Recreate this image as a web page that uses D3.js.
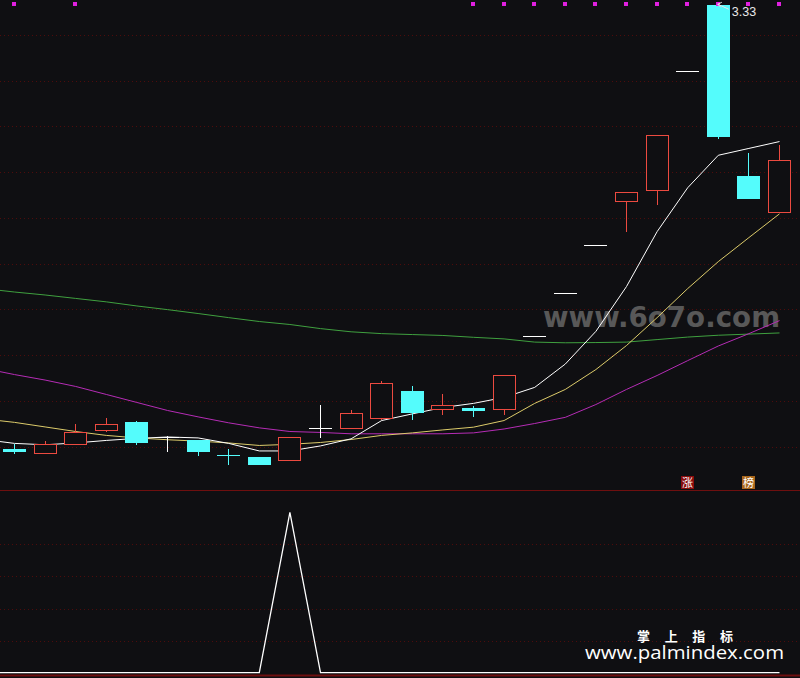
<!DOCTYPE html>
<html><head><meta charset="utf-8">
<script src="https://cdn.jsdelivr.net/npm/d3@7"></script>
<style>html,body{margin:0;padding:0;background:#0f0f12;overflow:hidden}</style>
</head><body><svg id="c" width="800" height="678"></svg>
<script>
// ---- data (26 trading days) ----
const opens  = [1.388,1.372,1.411,1.472,1.506,1.442,1.427,1.362,1.356,1.343,1.483,1.481,1.524,1.645,1.564,1.567,1.566,1.884,2.072,2.282,2.472,2.520,3.041,3.330,2.584,2.428];
const highs  = [1.410,1.424,1.501,1.523,1.514,1.446,1.431,1.388,1.356,1.443,1.584,1.562,1.689,1.667,1.632,1.577,1.715,1.884,2.072,2.282,2.513,2.763,3.041,3.330,2.685,2.720];
const lows   = [1.369,1.367,1.405,1.466,1.407,1.376,1.359,1.319,1.319,1.337,1.436,1.475,1.516,1.516,1.538,1.529,1.538,1.884,2.072,2.282,2.337,2.455,3.041,2.745,2.484,2.428];
const closes = [1.376,1.413,1.466,1.497,1.415,1.442,1.376,1.360,1.319,1.443,1.483,1.545,1.676,1.546,1.584,1.555,1.715,1.884,2.072,2.282,2.513,2.763,3.041,2.756,2.484,2.653];
// moving averages: first value belongs to the day before the first candle
const ma5  = [1.431,1.414,1.408,1.416,1.427,1.436,1.442,1.438,1.414,1.381,1.381,1.403,1.434,1.514,1.543,1.571,1.589,1.615,1.659,1.761,1.904,2.100,2.340,2.532,2.674,2.704,2.734];
const ma10 = [1.521,1.506,1.486,1.466,1.449,1.438,1.430,1.424,1.416,1.405,1.410,1.418,1.431,1.449,1.460,1.473,1.485,1.514,1.589,1.650,1.737,1.842,1.964,2.091,2.209,2.314,2.418];
const ma20 = [1.742,1.715,1.691,1.663,1.628,1.593,1.558,1.530,1.504,1.482,1.466,1.462,1.456,1.456,1.456,1.456,1.460,1.477,1.501,1.528,1.584,1.650,1.711,1.776,1.840,1.894,1.951];
const ma60 = [2.091,2.076,2.063,2.048,2.033,2.015,1.999,1.982,1.964,1.947,1.934,1.916,1.902,1.894,1.890,1.886,1.878,1.871,1.857,1.854,1.855,1.857,1.868,1.879,1.887,1.892,1.897];
const signal = [0,0,0,0,0,0,0,0,0,0,100,0,0,0,0,0,0,0,0,0,0,0,0,0,0,0,0];
const topMarks = [1,0,1,0,0,0,0,0,0,0,0,0,0,0,0,1,1,1,1,1,1,1,1,1,1,1];
const priceTicks = [1.4,1.6,1.8,2.0,2.2,2.4,2.6,2.8,3.0,3.2];
const signalTicks = [20,40,60,80];
const badgeDays = [22,24];
const badgeTexts = ["涨","榜"];

const C = {bg:"#0f0f12", red:"#ec4a40", cyan:"#54fcfc", white:"#ffffff", yellow:"#dccb6a",
  magenta:"#b52cb5", green:"#3fa03f", grid:"#4e0c0c", divider:"#6e0f0f", dot:"#e020e0"};

const svg = d3.select("#c");
svg.append("rect").attr("width",800).attr("height",678).attr("fill",C.bg);

const x = d3.scaleLinear().domain([0,25]).range([14.5,779.5]);
const y = d3.scaleLinear().domain([1.4,3.2]).range([446.6,35]);
const ys = d3.scaleLinear().domain([0,100]).range([672.7,512.3]);
const bodyW = 23;

// grid
svg.append("g").selectAll("line").data(priceTicks).join("line")
  .attr("x1",0).attr("x2",800).attr("y1",d=>Math.round(y(d))+0.5).attr("y2",d=>Math.round(y(d))+0.5)
  .attr("stroke",C.grid).attr("stroke-dasharray","1,3");
svg.append("g").selectAll("line").data(signalTicks).join("line")
  .attr("x1",0).attr("x2",800).attr("y1",d=>Math.round(ys(d))+0.5).attr("y2",d=>Math.round(ys(d))+0.5)
  .attr("stroke",C.grid).attr("stroke-dasharray","1,3");
svg.append("line").attr("x1",0).attr("x2",800).attr("y1",490.5).attr("y2",490.5).attr("stroke",C.divider);
svg.append("line").attr("x1",0).attr("x2",800).attr("y1",675.5).attr("y2",675.5).attr("stroke",C.divider).attr("stroke-width",2);

// watermark
svg.append("text").attr("x",543).attr("y",327).attr("font-family","DejaVu Sans").attr("font-weight","bold")
  .attr("font-size",28).attr("textLength",237).attr("lengthAdjust","spacingAndGlyphs")
  .attr("fill","#585858").text("www.6o7o.com");

// MA lines
const lineGen = d3.line().x((d,i)=>x(i-1)).y(d=>y(d));
[[ma60,C.green],[ma20,C.magenta],[ma10,C.yellow],[ma5,C.white]].forEach(([arr,col])=>{
  svg.append("path").attr("d",lineGen(arr)).attr("fill","none").attr("stroke",col).attr("stroke-width",1);
});

// candles
const days = d3.range(opens.length);
const g = svg.append("g");
days.forEach(i=>{
  const o=opens[i], c=closes[i], h=highs[i], l=lows[i];
  const left = Math.round(x(i) - bodyW/2);
  const cx = left + 11;
  const col = c>o ? C.red : (c<o ? C.cyan : C.white);
  const top = Math.round(y(Math.max(o,c))), bot = Math.round(y(Math.min(o,c)));
  const yh = Math.round(y(h)), yl = Math.round(y(l));
  if (c>o) {
    if (yh<top) g.append("line").attr("x1",cx+0.5).attr("x2",cx+0.5).attr("y1",yh).attr("y2",top).attr("stroke",col);
    if (yl>bot) g.append("line").attr("x1",cx+0.5).attr("x2",cx+0.5).attr("y1",bot+1).attr("y2",yl).attr("stroke",col);
    g.append("rect").attr("x",left+0.5).attr("y",top+0.5).attr("width",bodyW-1)
      .attr("height",Math.max(1,bot-top)).attr("fill",C.bg).attr("stroke",col);
  } else {
    if (yl>yh) g.append("line").attr("x1",cx+0.5).attr("x2",cx+0.5).attr("y1",yh).attr("y2",yl).attr("stroke",col);
    g.append("rect").attr("x",left).attr("y",top).attr("width",bodyW)
      .attr("height",Math.max(1,bot-top)).attr("fill",col);
  }
});

// top marks
svg.append("g").selectAll("rect").data(days.filter(i=>topMarks[i])).join("rect")
  .attr("x",i=>Math.round(x(i) - bodyW/2)+9).attr("y",2).attr("width",4).attr("height",4).attr("fill",C.dot);

// max high label
const iMax = d3.maxIndex(highs);
const hx = x(iMax) + bodyW/2, hy = y(highs[iMax]);
svg.append("path").attr("d",`M${hx-1},${hy+4} L${hx-12},${hy-1} M${hx-12},${hy-1} l4,-2 M${hx-12},${hy-1} l3,3`)
  .attr("stroke","#e8e8e8").attr("fill","none").attr("stroke-width",1);
svg.append("text").attr("x",hx+2).attr("y",hy+11).attr("font-family","Liberation Sans").attr("font-size",12.5)
  .attr("fill","#e8e8e8").text(d3.format(".2f")(highs[iMax]));

// badges
const bcol = ["#8a0c0c","#a8661c"];
badgeDays.forEach((d,k)=>{
  const bx = Math.round(x(d)) - 7;
  svg.append("rect").attr("x",bx).attr("y",476).attr("width",13).attr("height",13).attr("fill",bcol[k]);
  svg.append("text").attr("x",bx+6.5).attr("y",487).attr("text-anchor","middle").attr("font-size",11)
    .attr("font-family","Noto Sans CJK SC").attr("fill","#fff").text(badgeTexts[k]);
});

// signal panel
const sLine = d3.line().x((d,i)=>x(i-1)).y(d=>ys(d));
svg.append("path").attr("d",sLine(signal)).attr("fill","none").attr("stroke","#fff").attr("stroke-width",1.3);

// branding
svg.append("text").attr("x",637).attr("y",640.5).attr("font-family","Noto Sans CJK SC").attr("font-weight","bold")
  .attr("font-size",13).attr("textLength",96).attr("lengthAdjust","spacing").attr("fill","#fff").text("掌上指标");
svg.append("text").attr("x",585).attr("y",659).attr("font-family","Open Sans").attr("font-size",19)
  .attr("textLength",199).attr("lengthAdjust","spacingAndGlyphs").attr("fill","#fff").text("www.palmindex.com");
</script></body></html>
